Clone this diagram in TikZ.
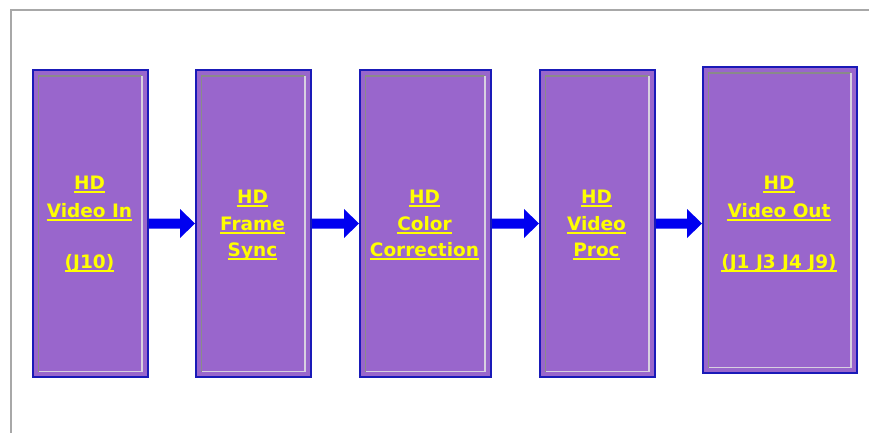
\documentclass[tikz,border=0pt]{standalone}
\usepackage{fontspec}
\setmainfont{DejaVu Sans}
\usetikzlibrary{calc}
\definecolor{boxfill}{HTML}{9966CC}
\definecolor{boxedge}{HTML}{1A1AB8}
\definecolor{arrowblue}{HTML}{0000F0}
\definecolor{txtyellow}{HTML}{FFFF00}
\definecolor{framegray}{HTML}{A8A8A8}
\definecolor{bevdark}{HTML}{8A8A8A}
\definecolor{bevlight}{HTML}{D8D0E0}
\tikzset{
  blk/.style={draw=boxedge, line width=2pt, fill=boxfill, minimum width=#1, minimum height=307pt, inner sep=0pt, anchor=north west},
  lbl/.style={text=txtyellow, font=\fontsize{18.5}{20}\selectfont\bfseries, inner sep=0pt, anchor=base},
  ulline/.style={draw=txtyellow, line width=1.8pt},
  bevd/.style={draw=bevdark, line width=1.5pt},
  bevl/.style={draw=bevlight, line width=1.8pt}
}
\newcommand{\bevel}[1]{%
  \draw[bevd] ($(#1.south west)+(6.5,-6.5)$) -- ($(#1.north west)+(6.5,7)$) -- ($(#1.north east)+(-7,7)$);
  \draw[bevl] ($(#1.north east)+(-7,7)$) -- ($(#1.south east)+(-7,-6.5)$) -- ($(#1.south west)+(6.5,-6.5)$);
}
\newcommand{\ulabel}[3]{%
  \node[lbl] (#1) at (#2) {#3};
  \draw[ulline] ($(#1.base west)+(0,3)$) -- ($(#1.base east)+(0,3)$);
}
\newcommand{\blockarrow}[2]{%
  \fill[arrowblue] ($(#1.east)+(0,-5)$) -- ($(#2.west |- #1.east)+(-15,-5)$) -- ($(#2.west |- #1.east)+(-15,-14.5)$)
    -- (#2.west |- #1.east) -- ($(#2.west |- #1.east)+(-15,14.5)$) -- ($(#2.west |- #1.east)+(-15,5)$)
    -- ($(#1.east)+(0,5)$) -- cycle;
}
\begin{document}
\begin{tikzpicture}[x=1pt,y=-1pt]
\useasboundingbox (0,0) rectangle (869,432);
\fill[white] (0,0) rectangle (869,432);
\draw[framegray, line width=2pt] (11,440) -- (11,10) -- (880,10);
% blocks
\node[blk=115pt] (b1) at (32,69) {};
\node[blk=115pt] (b2) at (195,69) {};
\node[blk=131pt] (b3) at (359,69) {};
\node[blk=115pt] (b4) at (539,69) {};
\node[blk=154pt, minimum height=306pt] (b5) at (702,66) {};
\bevel{b1}\bevel{b2}\bevel{b3}\bevel{b4}\bevel{b5}
% arrows
\blockarrow{b1}{b2}
\blockarrow{b2}{b3}
\blockarrow{b3}{b4}
\blockarrow{b4}{b5}
% labels
\ulabel{t1a}{89.5,189}{HD}
\ulabel{t1b}{89.5,217}{Video In}
\ulabel{t1c}{89.5,268}{(J10)}
\ulabel{t2a}{252.5,203}{HD}
\ulabel{t2b}{252.5,230}{Frame}
\ulabel{t2c}{252.5,256}{Sync}
\ulabel{t3a}{424.5,203}{HD}
\ulabel{t3b}{424.5,230}{Color}
\ulabel{t3c}{424.5,256}{Correction}
\ulabel{t4a}{596.5,203}{HD}
\ulabel{t4b}{596.5,230}{Video}
\ulabel{t4c}{596.5,256}{Proc}
\ulabel{t5a}{779,189}{HD}
\ulabel{t5b}{779,217}{Video Out}
\ulabel{t5c}{779,268}{(J1 J3 J4 J9)}
\end{tikzpicture}
\end{document}
